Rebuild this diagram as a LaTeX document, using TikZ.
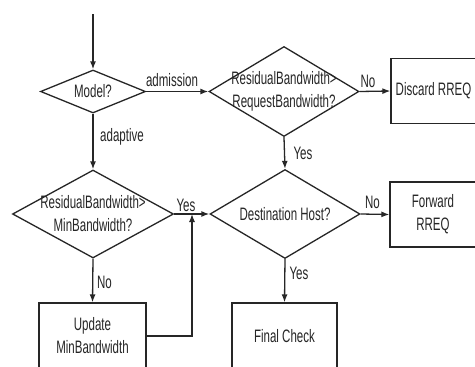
\documentclass[tikz,border=0pt]{standalone}
\usepackage{fontspec}
\setmainfont{Liberation Sans}[FakeStretch=0.64]
\usetikzlibrary{shapes.geometric,arrows.meta}
\definecolor{ink}{HTML}{262626}
\begin{document}
\begin{tikzpicture}[x=1pt,y=-1pt,
  every node/.style={font=\fontsize{18}{23}\selectfont, text=ink},
  dec/.style={draw=ink, line width=1.3pt, shape=diamond, inner sep=0pt},
  box/.style={draw=ink, line width=1.3pt, rectangle, inner sep=0pt, align=center},
  conn/.style={draw=ink, line width=1.3pt, -{Latex[length=8pt,width=6pt]}},
  lbl/.style={inner sep=0pt}]
\useasboundingbox (0,0) rectangle (475,367);
\fill[white] (0,0) rectangle (475,367);
\begin{scope}
\clip (0,0) rectangle (475,367);
% decisions
\node[dec, minimum width=105pt, minimum height=43pt,
  label={[align=center]center:Model?}] (model) at (93,91.5) {};
\node[dec, minimum width=150pt, minimum height=90pt,
  label={[align=center]center:ResidualBandwidth>\\RequestBandwidth?}] (req) at (284,91.5) {};
\node[dec, minimum width=161pt, minimum height=88pt,
  label={[align=center]center:ResidualBandwidth>\\MinBandwidth?}] (minbw) at (93,214) {};
\node[dec, minimum width=150pt, minimum height=89pt,
  label={[align=center]center:Destination Host?}] (dest) at (285,214) {};
% boxes
\node[box, minimum width=85pt, minimum height=65pt] (discard) at (433.5,91) {Discard RREQ};
\node[box, minimum width=86pt, minimum height=65pt] (forward) at (433,214.5) {Forward\\RREQ};
\node[box, minimum width=107pt, minimum height=66pt] (update) at (92.5,336) {Update\\MinBandwidth};
\node[box, minimum width=105pt, minimum height=66pt] (final) at (284.5,336) {Final Check};
% connectors
\coordinate (start) at (93,14);
\coordinate (merge) at (192,214);
\draw[conn] (start) -- (model.north);
\draw[conn] (model.east) -- (req.west);
\draw[conn] (model.south) -- (minbw.north);
\draw[conn] (req.east) -- (discard.west);
\draw[conn] (req.south) -- (dest.north);
\draw[conn] (minbw.east) -- (dest.west);
\draw[conn] (dest.east) -- (forward.west);
\draw[conn] (minbw.south) -- (update.north);
\draw[conn] (dest.south) -- (final.north);
\draw[conn] (update.east) -| (merge);
% labels
\node[lbl] (ladm) at (172,80) {admission};
\node[lbl] (lada) at (122,137) {adaptive};
\node[lbl] (lno1) at (368,81) {No};
\node[lbl] (lyes1) at (303,153) {Yes};
\node[lbl] (lyes2) at (186,205) {Yes};
\node[lbl] (lno2) at (104.5,282) {No};
\node[lbl] (lno3) at (372.5,202) {No};
\node[lbl] (lyes3) at (299,273) {Yes};
\end{scope}
\end{tikzpicture}
\end{document}
